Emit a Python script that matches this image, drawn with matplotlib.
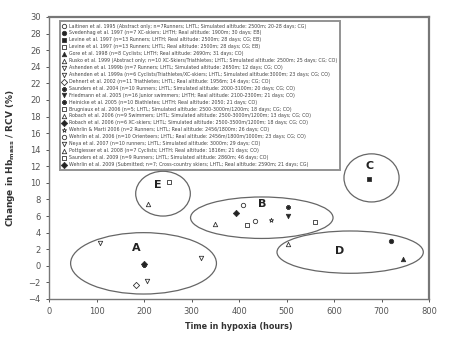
import matplotlib
matplotlib.use("Agg")
import matplotlib.pyplot as plt
from matplotlib.patches import Ellipse

# studies shown in the legend, with marker style and their point
studies = [
    "Laitinen et al. 1995 (Abstract only; n=7Runners; LHTL; Simulated altitude: 2500m; 20-28 days; CG)",
    "Svedenhag et al. 1997 (n=7 XC-skiers; LHTH; Real altitude: 1900m; 30 days; EB)",
    "Levine et al. 1997 (n=13 Runners; LHTH; Real altitude: 2500m; 28 days; CG; EB)",
    "Levine et al. 1997 (n=13 Runners; LHTL; Real altitude: 2500m; 28 days; CG; EB)",
    "Gore et al. 1998 (n=8 Cyclists; LHTH; Real altitude: 2690m; 31 days; CO)",
    "Rusko et al. 1999 (Abstract only; n=10 XC-Skiers/Triathletes; LHTL; Simulated altitude: 2500m; 25 days; CG; CO)",
    "Ashenden et al. 1999b (n=7 Runners; LHTL; Simulated altitude: 2650m; 12 days; CG; CO)",
    "Ashenden et al. 1999a (n=6 Cyclists/Triathletes/XC-skiers; LHTL; Simulated altitude:3000m; 23 days; CG; CO)",
    "Dehnert et al. 2002 (n=11 Triathletes; LHTL; Real altitude: 1956m; 14 days; CG; CO)",
    "Saunders et al. 2004 (n=10 Runners; LHTL; Simulated altitude: 2000-3100m; 20 days; CG; CO)",
    "Friedmann et al. 2005 (n=16 Junior swimmers; LHTH; Real altitude: 2100-2300m; 21 days; CO)",
    "Heinicke et al. 2005 (n=10 Biathletes; LHTH; Real altitude: 2050; 21 days; CO)",
    "Brugniaux et al. 2006 (n=5; LHTL; Simulated altitude: 2500-3000m/1200m; 18 days; CG; CO)",
    "Robach et al. 2006 (n=9 Swimmers; LHTL; Simulated altitude: 2500-3000m/1200m; 13 days; CG; CO)",
    "Robach et al. 2006 (n=6 XC-skiers; LHTL; Simulated altitude: 2500-3500m/1200m; 18 days; CG; CO)",
    "Wehrlin & Marti 2006 (n=2 Runners; LHTL; Real altitude: 2456/1800m; 26 days; CO)",
    "Wehrlin et al. 2006 (n=10 Orienteers; LHTL; Real altitude: 2456m/1800m/1000m; 23 days; CG; CO)",
    "Neya et al. 2007 (n=10 runners; LHTL; Simulated altitude: 3000m; 29 days; CO)",
    "Pottgiesser et al. 2008 (n=7 Cyclists; LHTH; Real altitude: 1816m; 21 days; CO)",
    "Saunders et al. 2009 (n=9 Runners; LHTL; Simulated altitude: 2860m; 46 days; CO)",
    "Wehrlin et al. 2009 (Submitted; n=7; Cross-country skiers; LHTL; Real altitude: 2590m; 21 days; CG)",
]
hours = [408, 720, 674, 561, 745, 350, 108, 320, 183, 200, 504, 504, 253, 209, 201, 468, 433, 207, 504, 416, 393]
change = [7.3, 3.0, 10.5, 5.3, 0.8, 5.0, 2.7, 1.0, -2.35, 0.1, 6.0, 7.1, 10.15, 7.5, 0.2, 5.5, 5.4, -1.8, 2.6, 4.9, 6.4]
markers = ["o", "o", "s", "s", "^", "^", "v", "v", "D", "P", "v", "P", "s", "^", "D", "*", "o", "v", "^", "s", "D"]
filled = [False, True, True, False, True, False, False, False, False, True, True, True, False, False, True, False, False, False, False, False, True]

# group ellipses: label, centre x, centre y, width, height, label position
groups = ["A", "B", "C", "D", "E"]
ell_x = [199, 448, 679, 634, 240]
ell_y = [0.3, 5.8, 10.6, 1.65, 8.7]
ell_w = [307, 300, 116, 308, 115]
ell_h = [7.4, 5.0, 5.8, 5.1, 5.4]
lab_x = [184, 449, 675, 612, 230]
lab_y = [2.1, 7.4, 12.0, 1.8, 9.8]

fig = plt.figure(figsize=(4.6, 3.49), dpi=100)
ax = fig.add_axes([49 / 460, 1 - 299 / 349, 380 / 460, 282 / 349])

gray = "#666666"
for i in range(len(studies)):
    face = "#222222" if filled[i] else "white"
    ax.scatter(hours[i], change[i], marker=markers[i], s=10, facecolor=face,
               edgecolor="#333333", linewidth=0.6, label=studies[i], zorder=3)

for i in range(len(groups)):
    ax.add_patch(Ellipse((ell_x[i], ell_y[i]), ell_w[i], ell_h[i], fill=False,
                         edgecolor=gray, linewidth=0.9))
    ax.text(lab_x[i], lab_y[i], groups[i], fontsize=8, fontweight="bold",
            ha="center", va="center", color="#222222")

ax.set_xlim(0, 800)
ax.set_ylim(-4, 30)
ax.set_xticks(range(0, 801, 100))
ax.set_yticks(range(-4, 31, 2))
ax.tick_params(labelsize=6, colors="#555555", length=2.5, width=0.7)
for s in ax.spines.values():
    s.set_color("#777777")
    s.set_linewidth(1.0)
ax.spines["right"].set_linewidth(1.6)
ax.spines["top"].set_linewidth(1.6)

ax.set_xlabel("Time in hypoxia (hours)", fontsize=5.8, fontweight="bold", color="#333333", labelpad=4)
ax.set_ylabel("Change in Hb$_{\\mathbf{mass}}$ / RCV (%)", fontsize=6.5, fontweight="bold", color="#333333", labelpad=8)

leg = ax.legend(loc="upper left", bbox_to_anchor=(0.029, 0.987), fontsize=3.45,
                frameon=True, fancybox=False, handletextpad=0.6, labelspacing=0.40,
                borderpad=0.6, handlelength=0.6, borderaxespad=0, markerscale=1.0)
leg.get_frame().set_edgecolor("#777777")
leg.get_frame().set_linewidth(1.4)
for t in leg.get_texts():
    t.set_color("#444444")

fig.savefig("out.png", dpi=100)
